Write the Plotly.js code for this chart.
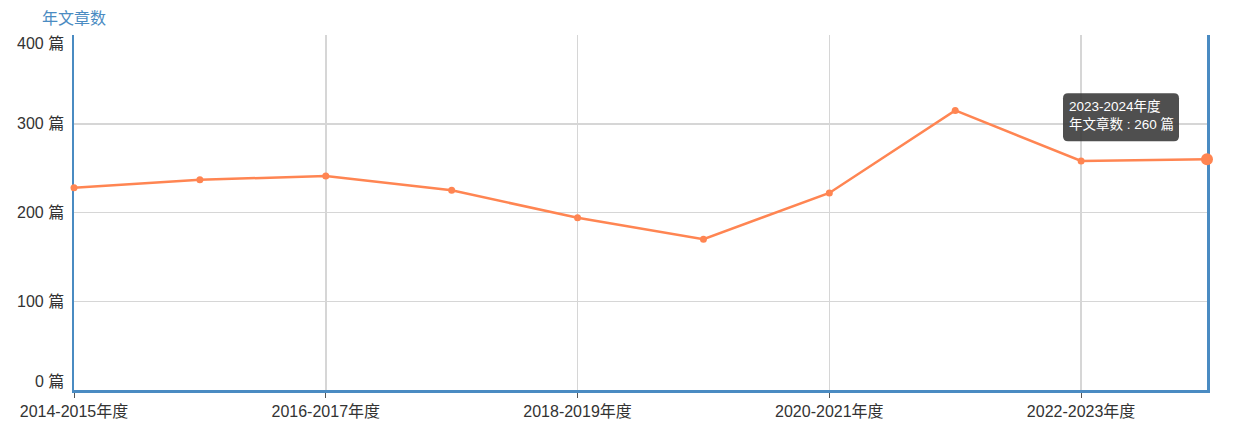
<!DOCTYPE html>
<html>
<head>
<meta charset="utf-8">
<script src="https://cdn.plot.ly/plotly-3.0.1.min.js"></script>
<style>
  html, body { margin: 0; padding: 0; background: #fff; }
  #chart { width: 1237px; height: 436px; }
</style>
</head>
<body>
<div id="chart"></div>
<script>
// 年度 categories and article counts
var years = ['2014-2015年度', '2015-2016年度', '2016-2017年度', '2017-2018年度', '2018-2019年度',
             '2019-2020年度', '2020-2021年度', '2021-2022年度', '2022-2023年度', '2023-2024年度'];
var counts = [228, 237, 241, 225, 194, 170, 222, 315, 258, 260];
var xTicks = ['2014-2015年度', '2016-2017年度', '2018-2019年度', '2020-2021年度', '2022-2023年度'];
var yTicks = [0, 100, 200, 300, 400];
var seriesName = '年文章数';
var unit = '篇';

var font = "'Liberation Sans', Arial, 'Noto Sans CJK SC', sans-serif";
var blue = '#4a8bc2';
var hovered = counts.length - 1;

var trace = {
  x: years,
  y: counts,
  type: 'scatter',
  mode: 'lines+markers',
  line: {color: '#ff8552', width: 2.5},
  marker: {
    color: '#ff8552',
    opacity: 1,
    line: {width: 0},
    size: counts.map(function (v, i) { return i === hovered ? 12 : 7; })
  },
  hoverinfo: 'skip',
  cliponaxis: false
};

// y tick labels as annotations so the edge labels can sit inside like the original
var yLabels = yTicks.map(function (v) {
  var shift = 0;
  if (v === yTicks[0]) shift = 9;
  if (v === yTicks[yTicks.length - 1]) shift = -8;
  return {
    xref: 'paper', yref: 'y', x: 0, y: v,
    text: v + ' ' + unit,
    showarrow: false, xanchor: 'right', yanchor: 'middle',
    xshift: -8, yshift: shift,
    font: {family: font, size: 16, color: '#333'}
  };
});

var annotations = yLabels.concat([
  {
    xref: 'paper', yref: 'paper', x: -34 / 1133, y: 1, yshift: 17,
    text: seriesName, showarrow: false, xanchor: 'left', yanchor: 'middle',
    font: {family: font, size: 16, color: blue}
  },
  {
    xref: 'x', yref: 'y', x: years[hovered], y: counts[hovered],
    text: years[hovered] + '<br>' + seriesName + ' : ' + counts[hovered] + ' ' + unit,
    showarrow: false, xanchor: 'left', yanchor: 'top',
    xshift: -140, yshift: 62, align: 'left',
    font: {family: font, size: 13.5, color: '#fff'}
  }
]);

// rounded tooltip box, sized in pixels around the hovered point
var box = {l: -144, r: -28, t: 66, b: 18, rad: 5};
var tipPath = 'M' + (box.l + box.rad) + ',' + box.t +
  ' L' + (box.r - box.rad) + ',' + box.t +
  ' Q' + box.r + ',' + box.t + ' ' + box.r + ',' + (box.t - box.rad) +
  ' L' + box.r + ',' + (box.b + box.rad) +
  ' Q' + box.r + ',' + box.b + ' ' + (box.r - box.rad) + ',' + box.b +
  ' L' + (box.l + box.rad) + ',' + box.b +
  ' Q' + box.l + ',' + box.b + ' ' + box.l + ',' + (box.b + box.rad) +
  ' L' + box.l + ',' + (box.t - box.rad) +
  ' Q' + box.l + ',' + box.t + ' ' + (box.l + box.rad) + ',' + box.t + ' Z';

var layout = {
  width: 1237,
  height: 436,
  margin: {l: 74, r: 30, t: 35, b: 46, pad: 0},
  paper_bgcolor: '#fff',
  plot_bgcolor: '#fff',
  showlegend: false,
  font: {family: font, size: 16, color: '#333'},
  xaxis: {
    type: 'category',
    range: [0, years.length - 1],
    tickmode: 'array',
    tickvals: xTicks,
    ticktext: xTicks,
    showgrid: true,
    gridcolor: '#d6d6d6',
    gridwidth: 1.5,
    showline: true,
    linecolor: blue,
    linewidth: 2.5,
    ticks: 'outside',
    ticklen: 5,
    tickcolor: '#555',
    tickfont: {family: font, size: 16, color: '#333'},
    zeroline: false,
    layer: 'below traces',
    fixedrange: true
  },
  yaxis: {
    range: [0, 400],
    tickmode: 'array',
    tickvals: yTicks,
    showticklabels: false,
    showgrid: true,
    gridcolor: '#d6d6d6',
    gridwidth: 1.5,
    showline: true,
    mirror: true,
    linecolor: blue,
    linewidth: 2.5,
    zeroline: false,
    layer: 'below traces',
    fixedrange: true
  },
  shapes: [{
    type: 'path',
    xref: 'x', yref: 'y',
    xsizemode: 'pixel', ysizemode: 'pixel',
    xanchor: hovered, yanchor: counts[hovered],
    path: tipPath,
    fillcolor: 'rgba(60,60,60,0.9)',
    line: {width: 0},
    layer: 'above'
  }],
  annotations: annotations
};

Plotly.newPlot('chart', [trace], layout, {displayModeBar: false, staticPlot: true});
</script>
</body>
</html>
